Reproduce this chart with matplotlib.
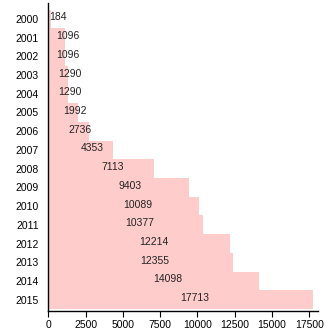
import matplotlib
matplotlib.use("Agg")
import matplotlib.pyplot as plt

years = ["2000", "2001", "2002", "2003", "2004", "2005", "2006", "2007",
         "2008", "2009", "2010", "2011", "2012", "2013", "2014", "2015"]
counts = [184, 1096, 1096, 1290, 1290, 1992, 2736, 4353,
          7113, 9403, 10089, 10377, 12214, 12355, 14098, 17713]
xticks = [0, 2500, 5000, 7500, 10000, 12500, 15000, 17500]

plt.rcParams["font.family"] = ["Liberation Sans", "DejaVu Sans"]

fig = plt.figure(figsize=(3.30, 3.31), dpi=100)
ax = fig.add_axes([0.1464, 0.0613, 0.8163, 0.9297])

pos = list(range(len(years)))
ax.barh(pos, counts, height=1.0, color="#ffcccc", linewidth=0)

for p, c in zip(pos, counts):
    ax.text(c / 2, p - 0.08, str(c), ha="left", va="center",
            fontsize=7.5, color="#222222")

ax.set_yticks(pos)
ax.set_yticklabels(years)
ax.set_ylim(15.59, -0.85)
ax.set_xlim(0, 18060)
ax.set_xticks(xticks)
ax.set_xticklabels([str(t) for t in xticks])

ax.tick_params(axis="y", length=0, pad=7, labelsize=7.5)
ax.tick_params(axis="x", length=4, width=0.8, labelsize=7.5, pad=3)

for side in ["top", "right"]:
    ax.spines[side].set_visible(False)
ax.spines["left"].set_linewidth(1.0)
ax.spines["bottom"].set_linewidth(1.0)

fig.savefig("out.png", dpi=100)
